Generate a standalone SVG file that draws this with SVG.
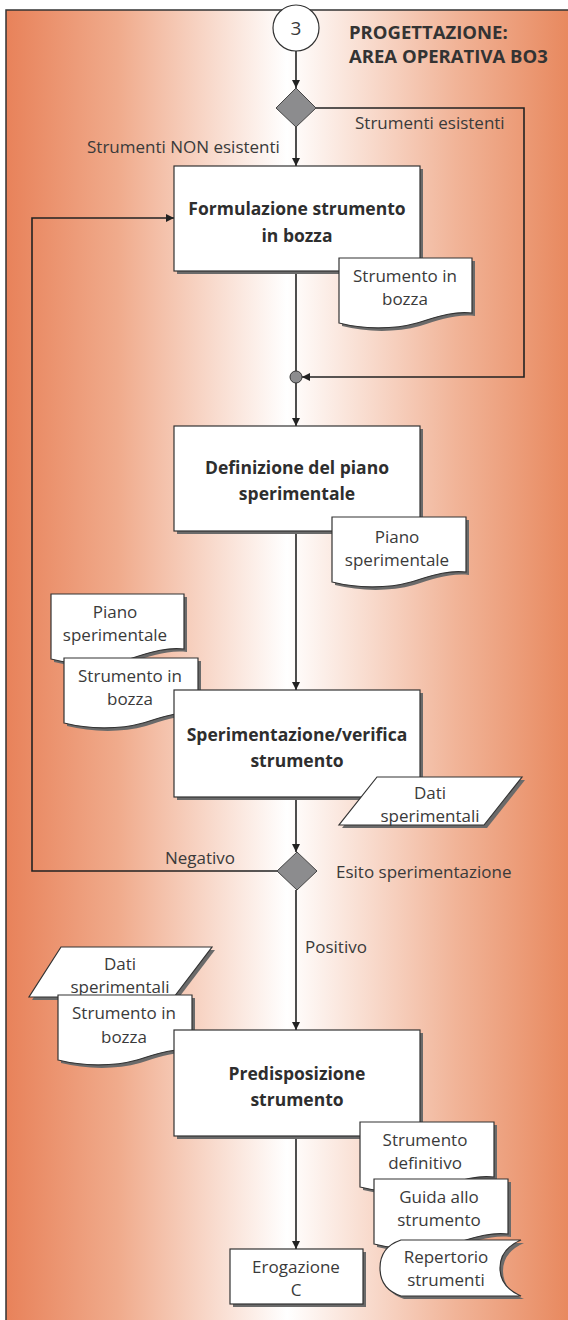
<svg xmlns="http://www.w3.org/2000/svg" width="568" height="1320" viewBox="0 0 568 1320">
  <defs>
    <linearGradient id="bg" x1="6" y1="0" x2="568" y2="0" gradientUnits="userSpaceOnUse">
      <stop offset="0" stop-color="#e8825a"/>
      <stop offset="0.2" stop-color="#f0ab8c"/>
      <stop offset="0.5" stop-color="#ffffff"/>
      <stop offset="0.8" stop-color="#f1b498"/>
      <stop offset="1" stop-color="#e8895f"/>
    </linearGradient>
    <marker id="arrow" viewBox="0 0 10 10" refX="10" refY="5" markerWidth="8" markerHeight="8" markerUnits="userSpaceOnUse" orient="auto">
      <path d="M0,0 L10,5 L0,10 Z" fill="#222"/>
    </marker>
  </defs>
  <style>
    .shape { fill: #ffffff; stroke: #333; stroke-width: 1.2; }
    .shadow { fill: #6a6a6a; stroke: none; }
    .decision { fill: #8c8c8e; stroke: #444; stroke-width: 1; }
    .link { fill: none; stroke: #222; stroke-width: 1.6; }
    .lbl { font-family: "Open Sans", "Liberation Sans", sans-serif; font-size: 17px; fill: #3a3a3a; }
    .mid { text-anchor: middle; }
    .title { font-family: "Open Sans", "Liberation Sans", sans-serif; font-size: 17.5px; font-weight: bold; fill: #2e2e2e; text-anchor: middle; }
    .head { font-family: "Open Sans", "Liberation Sans", sans-serif; font-size: 18.5px; font-weight: bold; fill: #333; }
  </style>

  <!-- background band -->
  <rect x="6" y="10" width="562" height="1310" fill="url(#bg)"/>
  <path d="M6,1320 V10 H568" fill="none" stroke="#333" stroke-width="1.5"/>

  <g id="heading">
    <text class="head" x="349" y="39">PROGETTAZIONE:</text>
    <text class="head" x="349" y="63">AREA OPERATIVA BO3</text>
  </g>

  <!-- connectors -->
  <g id="connectors">
    <path class="link" d="M296,51 V88" marker-end="url(#arrow)"/>
    <path class="link" d="M316,108 H524 V377 H302" marker-end="url(#arrow)"/>
    <path class="link" d="M296,127 V166" marker-end="url(#arrow)"/>
    <path class="link" d="M296,271 V371"/>
    <path class="link" d="M296,383 V426" marker-end="url(#arrow)"/>
    <path class="link" d="M296,531 V690" marker-end="url(#arrow)"/>
    <path class="link" d="M296,797 V852" marker-end="url(#arrow)"/>
    <path class="link" d="M277,871 H32 V218 H174" marker-end="url(#arrow)"/>
    <path class="link" d="M296,890 V1030" marker-end="url(#arrow)"/>
    <path class="link" d="M296,1136 V1249" marker-end="url(#arrow)"/>
    <text class="lbl" x="355" y="129">Strumenti esistenti</text>
    <text class="lbl" x="87" y="153">Strumenti NON esistenti</text>
    <text class="lbl" x="165" y="864">Negativo</text>
    <text class="lbl" x="336" y="878">Esito sperimentazione</text>
    <text class="lbl" x="305" y="953">Positivo</text>
  </g>

  <g id="start">
    <circle cx="296" cy="28" r="23" class="shape"/>
    <text class="lbl mid" x="296" y="35" style="font-size:19px">3</text>
  </g>

  <g id="decision-existing">
    <path class="decision" d="M296,88 L316,108 L296,127 L276,108 Z"/>
  </g>

  <g id="formulazione">
    <rect class="shadow" x="177" y="169" width="246" height="105"/>
    <rect class="shape" x="174" y="166" width="246" height="105"/>
    <text class="title" x="297" y="215">Formulazione strumento</text>
    <text class="title" x="297" y="242">in bozza</text>
  </g>

  <g id="doc-bozza-1">
    <path class="shadow" d="M342,261 H475 V316 C455,314 440,320 420,326 C395,333 365,332 342,326 Z"/>
    <path class="shape" d="M339,258 H472 V313 C452,311 437,317 417,323 C392,330 362,329 339,323 Z"/>
    <text class="lbl mid" x="405" y="282">Strumento in</text>
    <text class="lbl mid" x="405" y="305">bozza</text>
  </g>

  <g id="junction">
    <circle cx="296" cy="377" r="6" fill="#8c8c8e" stroke="#333" stroke-width="1"/>
  </g>

  <g id="definizione">
    <rect class="shadow" x="177" y="429" width="246" height="105"/>
    <rect class="shape" x="174" y="426" width="246" height="105"/>
    <text class="title" x="297" y="474">Definizione del piano</text>
    <text class="title" x="297" y="500">sperimentale</text>
  </g>

  <g id="doc-piano-1">
    <path class="shadow" d="M335,520 H469 V575 C449,573 434,579 414,585 C389,592 359,591 335,585 Z"/>
    <path class="shape" d="M332,517 H466 V572 C446,570 431,576 411,582 C386,589 356,588 332,582 Z"/>
    <text class="lbl mid" x="397" y="543">Piano</text>
    <text class="lbl mid" x="397" y="566">sperimentale</text>
  </g>

  <g id="doc-piano-2">
    <path class="shadow" d="M54,597 H187 V652 C167,650 152,656 132,662 C107,669 77,668 54,662 Z"/>
    <path class="shape" d="M51,594 H184 V649 C164,647 149,653 129,659 C104,666 74,665 51,659 Z"/>
    <text class="lbl mid" x="115" y="618">Piano</text>
    <text class="lbl mid" x="115" y="641">sperimentale</text>
  </g>

  <g id="doc-bozza-2">
    <path class="shadow" d="M67,661 H201 V716 C181,714 166,720 146,726 C121,733 91,732 67,726 Z"/>
    <path class="shape" d="M64,658 H198 V713 C178,711 163,717 143,723 C118,730 88,729 64,723 Z"/>
    <text class="lbl mid" x="130" y="682">Strumento in</text>
    <text class="lbl mid" x="130" y="705">bozza</text>
  </g>

  <g id="sperimentazione">
    <rect class="shadow" x="177" y="693" width="246" height="107"/>
    <rect class="shape" x="174" y="690" width="246" height="107"/>
    <text class="title" x="297" y="741">Sperimentazione/verifica</text>
    <text class="title" x="297" y="767">strumento</text>
  </g>

  <g id="data-dati-1">
    <path class="shadow" d="M380,780 H525 L487,828 H342 Z"/>
    <path class="shape" d="M377,777 H522 L484,825 H339 Z"/>
    <text class="lbl mid" x="430" y="799">Dati</text>
    <text class="lbl mid" x="430" y="822">sperimentali</text>
  </g>

  <g id="decision-esito">
    <path class="decision" d="M297,852 L317,871 L297,890 L277,871 Z"/>
  </g>

  <g id="data-dati-2">
    <path class="shadow" d="M64,950 H215 L177,1000 H32 Z"/>
    <path class="shape" d="M61,947 H212 L174,997 H29 Z"/>
    <text class="lbl mid" x="120" y="970">Dati</text>
    <text class="lbl mid" x="120" y="993">sperimentali</text>
  </g>

  <g id="doc-bozza-3">
    <path class="shadow" d="M61,998 H195 V1053 C175,1051 160,1057 140,1063 C115,1070 85,1069 61,1063 Z"/>
    <path class="shape" d="M58,995 H192 V1050 C172,1048 157,1054 137,1060 C112,1067 82,1066 58,1060 Z"/>
    <text class="lbl mid" x="124" y="1019">Strumento in</text>
    <text class="lbl mid" x="124" y="1043">bozza</text>
  </g>

  <g id="predisposizione">
    <rect class="shadow" x="177" y="1033" width="246" height="106"/>
    <rect class="shape" x="174" y="1030" width="246" height="106"/>
    <text class="title" x="297" y="1080">Predisposizione</text>
    <text class="title" x="297" y="1106">strumento</text>
  </g>

  <g id="doc-definitivo">
    <path class="shadow" d="M363,1125 H497 V1180 C477,1178 462,1184 442,1190 C417,1197 387,1196 363,1190 Z"/>
    <path class="shape" d="M360,1122 H494 V1177 C474,1175 459,1181 439,1187 C414,1194 384,1193 360,1187 Z"/>
    <text class="lbl mid" x="425" y="1146">Strumento</text>
    <text class="lbl mid" x="425" y="1169">definitivo</text>
  </g>

  <g id="doc-guida">
    <path class="shadow" d="M377,1182 H511 V1237 C491,1235 476,1241 456,1247 C431,1254 401,1253 377,1247 Z"/>
    <path class="shape" d="M374,1179 H508 V1234 C488,1232 473,1238 453,1244 C428,1251 398,1250 374,1244 Z"/>
    <text class="lbl mid" x="439" y="1203">Guida allo</text>
    <text class="lbl mid" x="439" y="1226">strumento</text>
  </g>

  <g id="store-repertorio">
    <path class="shadow" d="M404,1243 H524 Q503,1252 503,1271 Q503,1290 524,1299 H404 Q383,1292 383,1271 Q383,1250 404,1243 Z"/>
    <path class="shape" d="M401,1240 H521 Q500,1249 500,1268 Q500,1287 521,1296 H401 Q380,1289 380,1268 Q380,1247 401,1240 Z"/>
    <text class="lbl mid" x="446" y="1263">Repertorio</text>
    <text class="lbl mid" x="446" y="1286">strumenti</text>
  </g>

  <g id="erogazione">
    <rect class="shadow" x="233" y="1252" width="133" height="55"/>
    <rect class="shape" x="230" y="1249" width="133" height="55"/>
    <text class="lbl mid" x="296" y="1273">Erogazione</text>
    <text class="lbl mid" x="296" y="1296">C</text>
  </g>
</svg>
